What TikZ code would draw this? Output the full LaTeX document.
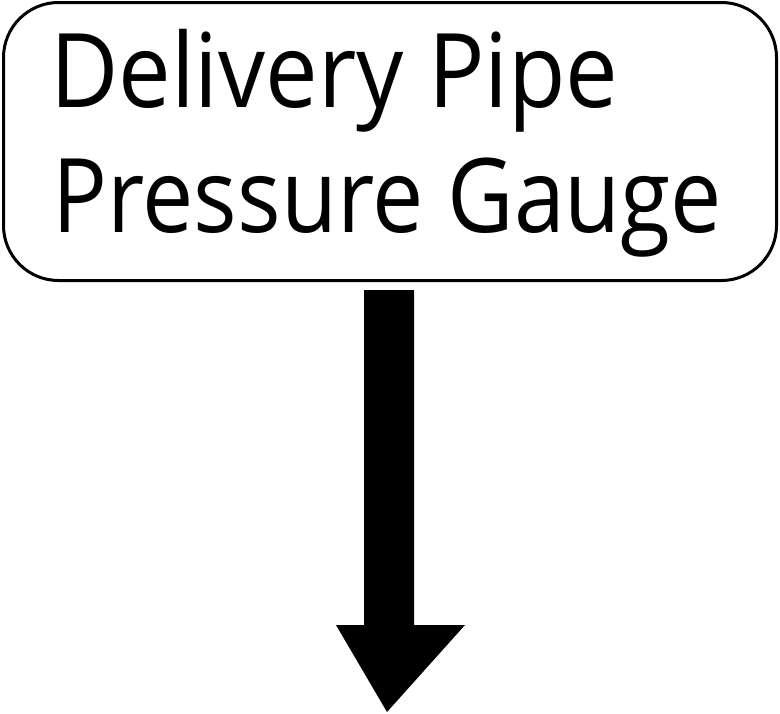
\documentclass[tikz,border=0pt]{standalone}
\usepackage{fontspec}
\setmainfont{Open Sans}
\begin{document}
\begin{tikzpicture}[x=1pt,y=-1pt,
  labeltext/.style={anchor=base west,inner sep=0pt,font=\fontsize{103}{120}\selectfont},
  frame/.style={draw=black,line width=3pt,rounded corners=55pt,fill=white}]
\useasboundingbox (0,0) rectangle (780,713);
\draw[frame] (3.5,2.5) rectangle (776.5,280.5);
\node[labeltext] (l1) at (50,107) {\scalebox{0.911}[1]{Delivery Pipe}};
\node[labeltext] (l2) at (52,232) {\scalebox{0.887}[1]{Pressure Gauge}};
\fill[black] (364,290) -- (414,290) -- (414,625) -- (465,625) -- (387,712) -- (336,625) -- (364,625) -- cycle;
\end{tikzpicture}
\end{document}
